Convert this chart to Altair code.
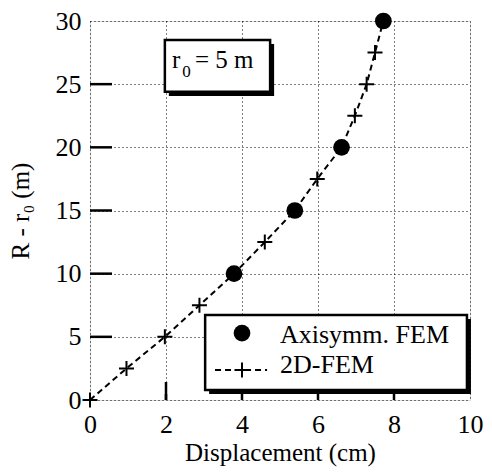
import altair as alt
import pandas as pd

# --- data ---
fem2d_disp = [0.0, 0.96, 1.97, 2.88, 3.79, 4.60, 5.39, 5.98, 6.62, 6.97, 7.28, 7.50, 7.72]
fem2d_r = [0.0, 2.5, 5.0, 7.5, 10.0, 12.5, 15.0, 17.5, 20.0, 22.5, 25.0, 27.5, 30.0]
axi_disp = [3.79, 5.39, 6.62, 7.72]
axi_r = [10.0, 15.0, 20.0, 30.0]

x_ticks = [0, 2, 4, 6, 8, 10]
y_ticks = [0, 5, 10, 15, 20, 25, 30]
inner_y_ticks = [5, 10, 15, 20, 25]
inner_x_ticks = [2, 4, 6, 8]
inner_x_tick_len = [18, 6, 6, 6]

FONT = "Liberation Serif"
W, H = 380, 379

df2d = pd.DataFrame({"x": fem2d_disp, "y": fem2d_r})
dfaxi = pd.DataFrame({"x": axi_disp, "y": axi_r})

xs = alt.Scale(domain=[0, 10], nice=False, zero=False)
ys = alt.Scale(domain=[0, 30], nice=False, zero=False)

xaxis = alt.Axis(values=x_ticks, grid=True, gridDash=[1, 3], gridColor="black", gridWidth=1,
                 gridOpacity=1, ticks=False, domain=False, labelFont=FONT, labelFontSize=26,
                 labelColor="black", labelPadding=11, title="Displacement (cm)", titleFont=FONT,
                 titleFontSize=25, titleFontWeight="normal", titleColor="black",
                 titleY=60, titleBaseline="alphabetic", labelFlush=False)
yaxis = alt.Axis(values=y_ticks, grid=True, gridDash=[1, 3], gridColor="black", gridWidth=1,
                 gridOpacity=1, ticks=False, domain=False, labelFont=FONT, labelFontSize=26,
                 labelColor="black", labelPadding=9, title="R - r₀ (m)", titleFont=FONT,
                 titleFontSize=25, titleFontWeight="normal", titleColor="black",
                 titleX=-70, titleY=H / 2, titleAngle=-90, titleAlign="center",
                 titleBaseline="middle", labelFlush=False)

line = alt.Chart(df2d).mark_line(color="black", strokeWidth=2, strokeDash=[6, 4]).encode(
    x=alt.X("x:Q", scale=xs, axis=xaxis),
    y=alt.Y("y:Q", scale=ys, axis=yaxis),
)

PLUS = "M-1,0L1,0M0,-1L0,1"
plus = alt.Chart(df2d).mark_point(shape=PLUS, size=225, filled=False, stroke="black",
                                  strokeWidth=2, opacity=1).encode(
    x=alt.X("x:Q", scale=xs), y=alt.Y("y:Q", scale=ys))

circles = alt.Chart(dfaxi).mark_circle(size=280, color="black", opacity=1).encode(
    x=alt.X("x:Q", scale=xs), y=alt.Y("y:Q", scale=ys))

# inward ticks
ytk = alt.Chart(pd.DataFrame({"y": inner_y_ticks})).mark_rule(color="black", strokeWidth=2.5).encode(
    y=alt.Y("y:Q", scale=ys), x=alt.value(0), x2=alt.value(22))
xtk_df = pd.DataFrame({"x": inner_x_ticks, "len": inner_x_tick_len})
xtk = alt.Chart(xtk_df).mark_rule(color="black", strokeWidth=2.5).encode(
    x=alt.X("x:Q", scale=xs), y=alt.value(H), y2=alt.value(H - 6))
xtk2 = alt.Chart(xtk_df[xtk_df["len"] > 6]).mark_rule(color="black", strokeWidth=2.5).encode(
    x=alt.X("x:Q", scale=xs), y=alt.value(H), y2=alt.value(H - 18))

one = alt.Data(values=[{}])


def box(x1, x2, y1, y2, dx=0.105, dy=0.32):
    shadow = alt.Chart(one).mark_rect(color="black").encode(
        x=alt.datum(x1 + dx, scale=xs), x2=alt.datum(x2 + dx),
        y=alt.datum(y1 - dy, scale=ys), y2=alt.datum(y2 - dy))
    face = alt.Chart(one).mark_rect(fill="white", stroke="black", strokeWidth=2.5).encode(
        x=alt.datum(x1, scale=xs), x2=alt.datum(x2),
        y=alt.datum(y1, scale=ys), y2=alt.datum(y2))
    return shadow + face


def text(s, x, y, size, align="left"):
    return alt.Chart(one).mark_text(text=s, font=FONT, fontSize=size, color="black",
                                    align=align, baseline="alphabetic").encode(
        x=alt.datum(x, scale=xs), y=alt.datum(y, scale=ys))


# legend (drawn in data units)
leg_box = box(3.03, 9.92, 6.73, 0.79)
leg_circle = alt.Chart(one).mark_circle(size=280, color="black", opacity=1).encode(
    x=alt.datum(4.0, scale=xs), y=alt.datum(5.3, scale=ys))
leg_line = alt.Chart(one).mark_rule(color="black", strokeWidth=2, strokeDash=[6, 4]).encode(
    x=alt.datum(3.29, scale=xs), x2=alt.datum(4.66), y=alt.datum(2.38, scale=ys))
leg_plus = alt.Chart(one).mark_point(shape=PLUS, size=225, filled=False, stroke="black",
                                     strokeWidth=2, opacity=1).encode(
    x=alt.datum(4.0, scale=xs), y=alt.datum(2.38, scale=ys))
leg_t1 = text("Axisymm. FEM", 5.0, 4.54, 26)
leg_t2 = text("2D-FEM", 5.0, 2.14, 26)

# annotation r0 = 5 m
ann_box = box(1.97, 4.74, 28.5, 24.39)
ann_r = text("r", 2.16, 26.29, 25)
ann_0 = text("0", 2.43, 25.57, 17)
ann_rest = text("= 5 m", 2.76, 26.29, 25)

chart = alt.layer(
    line, plus, circles, ytk, xtk, xtk2,
    leg_box, leg_circle, leg_line, leg_plus, leg_t1, leg_t2,
    ann_box, ann_r, ann_0, ann_rest,
).properties(
    width=W, height=H,
    autosize=alt.AutoSizeParams(type="none"),
    padding={"left": 82, "top": 13, "right": 14, "bottom": 67},
).configure_view(stroke="black", strokeWidth=2.5).configure(background="white")

chart.save("out.html", embed_options={"renderer": "svg", "actions": False})
